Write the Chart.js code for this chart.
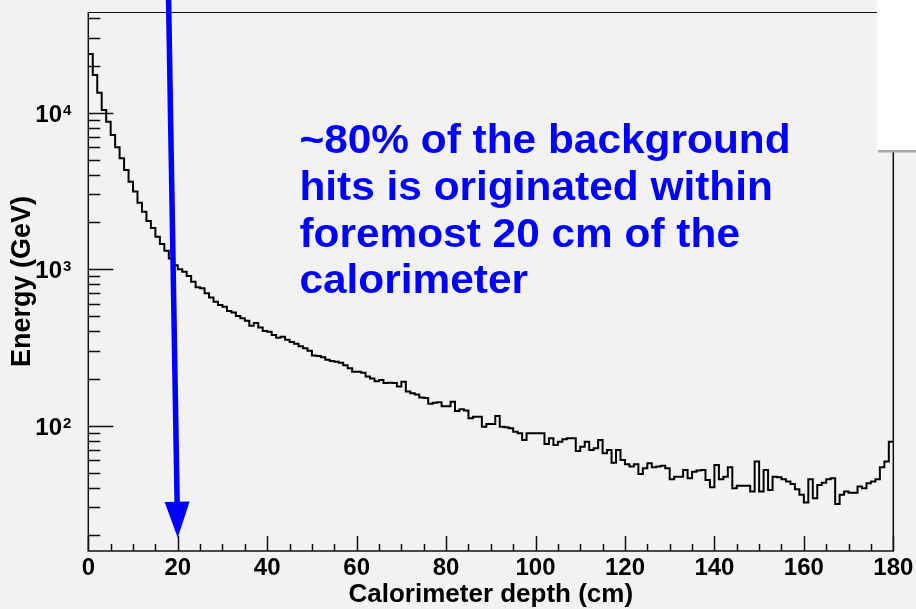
<!DOCTYPE html>
<html><head><meta charset="utf-8">
<script src="https://cdn.jsdelivr.net/npm/chart.js@4.4.1/dist/chart.umd.min.js"></script>
<style>html,body{margin:0;padding:0;background:#f2f2f2;overflow:hidden}canvas{display:block}</style>
</head><body>
<canvas id="c" width="916" height="609"></canvas>
<script>
// ---- data ----
const depthRange = [0, 180];      // cm
const binWidthCm = 1;
const energyGeV = [
  23700,17400,13400,10400,8760,7200,6010,5110,4300,3620,
  3130,2660,2330,2030,1830,1610,1450,1310,1170,1060,
  1000,964,905,832,766,755,702,658,620,590,
  576,541,529,502,486,468,434,453,424,403,
  398,380,364,370,354,342,334,322,312,301,
  281,279,273,264,259,256,252,243,233,221,
  221,218,206,200,192,196,187,188,187,178,
  191,165,161,158,151,150,138,140,141,133,
  133,142,124,127,125,111.5,114,114,98.5,102.5,
  102.5,115,98.5,97.6,96.2,91.5,89.4,81.0,89.4,89.4,
  89.4,89.4,76.4,83.1,75.3,79.0,81.9,83.1,83.1,68.9,
  73.4,79.0,69.9,71.7,81.0,66.6,69.9,58.0,69.9,60.4,
  56.7,54.7,56.7,49.1,53.4,57.5,54.2,54.7,55.3,53.4,
  45.4,47.2,47.2,52.1,46.1,50.8,51.6,52.1,45.0,40.4,
  56.1,45.4,47.2,54.2,39.8,41.2,41.2,41.2,37.9,58.9,
  37.9,52.1,38.8,47.2,46.8,45.4,43.9,42.4,39.2,36.1,
  32.2,45.4,34.4,41.8,43.2,45.4,46.1,31.6,36.1,37.9,
  37.3,37.3,40.8,39.8,42.8,43.9,45.4,54.2,58.9,79.0
];
const binLowEdges = energyGeV.map((_, i) => depthRange[0] + i * binWidthCm);

const xTickValues = [0,5,10,15,20,25,30,35,40,45,50,55,60,65,70,75,80,85,90,95,100,105,110,115,120,125,130,135,140,145,150,155,160,165,170,175,180];
const xTickLabels = {0:'0',20:'20',40:'40',60:'60',80:'80',100:'100',120:'120',140:'140',160:'160',180:'180'};
const yTickValues = [20,30,40,50,60,70,80,90,100,200,300,400,500,600,700,800,900,1000,2000,3000,4000,5000,6000,7000,8000,9000,10000,20000,30000,40000];
const yTickBase = {100:'10',1000:'10',10000:'10'};
const yTickExponent = {100:'2',1000:'3',10000:'4'};
const yRange = [15.8, 44000];

const xTitle = 'Calorimeter depth (cm)';
const yTitle = 'Energy (GeV)';
const noteLines = ['~80% of the background','hits is originated within','foremost 20 cm of the','calorimeter'];
const noteAnchor = {x: 47.2, y: 5500};          // cm, GeV (first baseline)
const arrowFrom = {x: 17.95, y: 52500};         // cm, GeV
const arrowTo   = {x: 20.0,  y: 19.2};

// ---- chart ----
const FONT = '"Liberation Sans", Arial, Helvetica, sans-serif';
const points = binLowEdges.map((x, i) => ({x, y: energyGeV[i]}));
points.push({x: depthRange[1], y: energyGeV[energyGeV.length - 1]});

const rootLook = {
  id: 'rootLook',
  beforeDraw(chart) {
    const {ctx, width, height} = chart;
    ctx.save(); ctx.fillStyle = '#f2f2f2'; ctx.fillRect(0, 0, width, height); ctx.restore();
  },
  afterDraw(chart) {
    const {ctx, chartArea: a, scales: {x, y}} = chart;
    ctx.save();
    ctx.strokeStyle = '#111'; ctx.lineWidth = 1.5;
    ctx.beginPath();
    x.ticks.forEach(t => {
      const px = Math.round(x.getPixelForValue(t.value)) + 0.5;
      const len = (t.value % 20 === 0) ? 15 : 7;
      ctx.moveTo(px, a.bottom); ctx.lineTo(px, a.bottom - len);
    });
    y.ticks.forEach(t => {
      const py = Math.round(y.getPixelForValue(t.value)) + 0.5;
      const len = yTickBase[t.value] ? 25 : 12;
      ctx.moveTo(a.left, py); ctx.lineTo(a.left + len, py);
    });
    ctx.stroke();
    // exponents of the y tick labels
    ctx.fillStyle = '#000'; ctx.font = 'bold 15px ' + FONT; ctx.textAlign = 'left'; ctx.textBaseline = 'alphabetic';
    y.ticks.forEach(t => {
      if (!yTickExponent[t.value]) return;
      const py = y.getPixelForValue(t.value);
      ctx.fillText(yTickExponent[t.value], a.left - 25.3, py + 2.3);
    });
    // axes
    ctx.beginPath();
    ctx.moveTo(a.left, a.top); ctx.lineTo(a.left, a.bottom); ctx.lineTo(a.right, a.bottom); ctx.lineTo(a.right, a.top);
    ctx.stroke();
    ctx.lineWidth = 1.2;
    ctx.beginPath(); ctx.moveTo(a.left, a.top + 0.5); ctx.lineTo(a.right, a.top + 0.5); ctx.stroke();

    // arrow
    const x0 = x.getPixelForValue(arrowFrom.x), y0 = y.getPixelForValue(arrowFrom.y);
    const x1 = x.getPixelForValue(arrowTo.x),   y1 = y.getPixelForValue(arrowTo.y);
    const L = Math.hypot(x1 - x0, y1 - y0), ux = (x1 - x0) / L, uy = (y1 - y0) / L;
    const headL = 36, headW = 12.5;
    const bx = x1 - ux * headL, by = y1 - uy * headL;
    ctx.strokeStyle = '#0000ff'; ctx.fillStyle = '#0000ff'; ctx.lineWidth = 5.5; ctx.lineCap = 'butt';
    ctx.beginPath(); ctx.moveTo(x0, y0); ctx.lineTo(bx + ux * 2, by + uy * 2); ctx.stroke();
    ctx.beginPath();
    ctx.moveTo(x1, y1);
    ctx.lineTo(bx - uy * headW, by + ux * headW);
    ctx.lineTo(bx + uy * headW, by - ux * headW);
    ctx.closePath(); ctx.fill();

    // note text
    const tx = x.getPixelForValue(noteAnchor.x), ty = y.getPixelForValue(noteAnchor.y);
    ctx.font = 'bold 40px ' + FONT; ctx.textBaseline = 'alphabetic'; ctx.textAlign = 'left';
    noteLines.forEach((line, i) => {
      ctx.save(); ctx.translate(tx, ty + i * 46.7); ctx.scale(1.06, 1); ctx.fillText(line, 0, 0); ctx.restore();
    });

    // stats-box remnant (top right)
    ctx.fillStyle = '#ffffff'; ctx.fillRect(877, 0, 39, 150);
    ctx.fillStyle = '#a8a8a8'; ctx.fillRect(878, 150, 38, 2.5);
    ctx.restore();
  }
};

new Chart(document.getElementById('c'), {
  type: 'line',
  data: { datasets: [{
    data: points, stepped: 'before', borderColor: '#000', borderWidth: 2,
    pointRadius: 0, fill: false, tension: 0
  }]},
  options: {
    responsive: false, maintainAspectRatio: false, animation: false,
    layout: { padding: { top: 12, right: 22.7, left: 0, bottom: 0 } },
    plugins: { legend: { display: false }, tooltip: { enabled: false }, title: { display: false } },
    scales: {
      x: {
        type: 'linear', min: depthRange[0], max: depthRange[1],
        afterBuildTicks: s => { s.ticks = xTickValues.map(v => ({value: v})); },
        afterFit: s => { s.height = 58; s.paddingLeft = 0; s.paddingRight = 0; },
        grid: { display: false, drawTicks: false },
        border: { display: false },
        ticks: { autoSkip: false, maxRotation: 0, padding: 3, color: '#000',
          font: { family: FONT, size: 24, weight: 'bold' },
          callback: v => xTickLabels[v] || '' },
        title: { display: true, text: xTitle, color: '#000',
          font: { family: FONT, size: 26, weight: 'bold', lineHeight: 1 },
          padding: { top: 0, bottom: 1 } }
      },
      y: {
        type: 'logarithmic', min: yRange[0], max: yRange[1],
        afterBuildTicks: s => { s.ticks = yTickValues.map(v => ({value: v})); },
        afterFit: s => { s.width = 88.3; s.paddingTop = 0; s.paddingBottom = 0; },
        grid: { display: false, drawTicks: false },
        border: { display: false },
        ticks: { autoSkip: false, padding: 26.3, labelOffset: 2.5, color: '#000',
          font: { family: FONT, size: 24, weight: 'bold' },
          callback: v => yTickBase[v] || '' },
        title: { display: true, text: yTitle, color: '#000',
          font: { family: FONT, size: 27, weight: 'bold', lineHeight: 1 },
          padding: { top: 9.5, bottom: 0 } }
      }
    }
  },
  plugins: [rootLook]
});
</script>
</body></html>
